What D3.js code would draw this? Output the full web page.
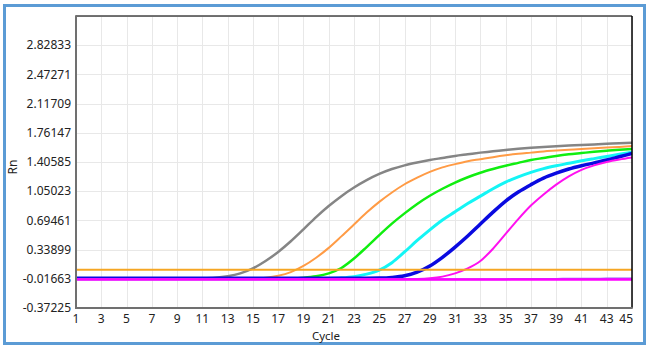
<!DOCTYPE html>
<html>
<head>
<meta charset="utf-8">
<script src="https://cdn.jsdelivr.net/npm/d3@7"></script>
<style>
  html, body { margin: 0; padding: 0; background: #fff; }
  svg { display: block; font-family: "Noto Sans", "Liberation Sans", sans-serif; }
</style>
</head>
<body>
<svg id="chart" width="650" height="354"></svg>
<script>
// cycles and tick labels
const cycles = d3.range(1, 46)
const yTicks = [-0.37225, -0.01663, 0.33899, 0.69461, 1.05023, 1.40585, 1.76147, 2.11709, 2.47271, 2.82833]
const xTicks = [1, 3, 5, 7, 9, 11, 13, 15, 17, 19, 21, 23, 25, 27, 29, 31, 33, 35, 37, 39, 41, 43, 45]
const yMax = 3.18395
const threshold = 0.094

// Rn per cycle
const gray = [-0.015, -0.015, -0.015, -0.015, -0.015, -0.015, -0.015, -0.015, -0.015, -0.015,
  -0.012, -0.004, 0.015, 0.05, 0.11, 0.2, 0.31, 0.44, 0.585, 0.735, 0.87, 0.99, 1.095, 1.185, 1.26,
  1.32, 1.365, 1.40, 1.43, 1.455, 1.48, 1.50, 1.52, 1.538, 1.553, 1.566, 1.578, 1.589, 1.598, 1.606,
  1.613, 1.62, 1.627, 1.634, 1.64]
const orange = [-0.015, -0.015, -0.015, -0.015, -0.015, -0.015, -0.015, -0.015, -0.015, -0.015,
  -0.015, -0.015, -0.015, -0.015, -0.012, -0.003, 0.02, 0.065, 0.14, 0.24, 0.36, 0.5, 0.645, 0.79, 0.92,
  1.035, 1.135, 1.215, 1.285, 1.34, 1.38, 1.415, 1.44, 1.465, 1.487, 1.505, 1.52, 1.535, 1.545, 1.555,
  1.565, 1.573, 1.581, 1.59, 1.60]
const green = [-0.015, -0.015, -0.015, -0.015, -0.015, -0.015, -0.015, -0.015, -0.015, -0.015,
  -0.015, -0.015, -0.015, -0.015, -0.015, -0.015, -0.015, -0.012, -0.003, 0.015, 0.05, 0.115, 0.23, 0.37, 0.515,
  0.655, 0.78, 0.895, 0.995, 1.08, 1.155, 1.22, 1.275, 1.32, 1.36, 1.395, 1.43, 1.455, 1.48, 1.50,
  1.515, 1.53, 1.543, 1.555, 1.565]
const cyan = [-0.015, -0.015, -0.015, -0.015, -0.015, -0.015, -0.015, -0.015, -0.015, -0.015,
  -0.015, -0.015, -0.015, -0.015, -0.015, -0.015, -0.015, -0.015, -0.015, -0.015, -0.012, -0.005, 0.01, 0.04, 0.09,
  0.18, 0.31, 0.45, 0.58, 0.70, 0.80, 0.90, 0.99, 1.08, 1.16, 1.225, 1.28, 1.325, 1.36, 1.39,
  1.42, 1.447, 1.473, 1.50, 1.525]
const blue = [-0.01, -0.01, -0.01, -0.01, -0.01, -0.01, -0.01, -0.01, -0.01, -0.01,
  -0.01, -0.01, -0.01, -0.01, -0.01, -0.01, -0.01, -0.01, -0.01, -0.01, -0.01, -0.01, -0.01, -0.01, -0.008,
  0.0, 0.02, 0.065, 0.14, 0.245, 0.37, 0.505, 0.65, 0.795, 0.93, 1.04, 1.13, 1.21, 1.27, 1.32,
  1.36, 1.395, 1.43, 1.47, 1.51]
const magenta = [-0.02, -0.02, -0.02, -0.02, -0.02, -0.02, -0.02, -0.02, -0.02, -0.02,
  -0.02, -0.02, -0.02, -0.02, -0.02, -0.02, -0.02, -0.02, -0.02, -0.02, -0.02, -0.02, -0.02, -0.02, -0.02,
  -0.02, -0.02, -0.018, -0.01, 0.01, 0.05, 0.11, 0.2, 0.35, 0.53, 0.71, 0.875, 1.01, 1.13, 1.23,
  1.31, 1.365, 1.405, 1.435, 1.46]
const ntcViolet = [-0.022, -0.022, -0.021, -0.022, -0.022, -0.023, -0.022, -0.022, -0.022, -0.023,
  -0.022, -0.022, -0.023, -0.022, -0.022, -0.022, -0.023, -0.022, -0.022, -0.022, -0.023, -0.022, -0.022, -0.022, -0.022,
  -0.023, -0.022, -0.022, -0.022, -0.023, -0.022, -0.021, -0.022, -0.022, -0.021, -0.02, -0.02, -0.019, -0.018, -0.017,
  -0.016, -0.015, -0.014, -0.013, -0.012]
const ntcMagenta = [-0.024, -0.024, -0.024, -0.024, -0.024, -0.024, -0.024, -0.024, -0.024, -0.024,
  -0.024, -0.024, -0.024, -0.024, -0.024, -0.024, -0.024, -0.024, -0.024, -0.024, -0.024, -0.024, -0.024, -0.024, -0.024,
  -0.024, -0.024, -0.024, -0.024, -0.024, -0.024, -0.024, -0.024, -0.024, -0.024, -0.024, -0.024, -0.024, -0.024, -0.024,
  -0.024, -0.024, -0.024, -0.024, -0.024]

const series = [
  {vals: gray, color: '#858585', w: 2.5},
  {vals: orange, color: '#ff9b45', w: 2},
  {vals: green, color: '#10ee10', w: 2.5},
  {vals: cyan, color: '#14f5f5', w: 3},
  {vals: blue, color: '#0a0ae0', w: 3.5},
  {vals: magenta, color: '#ff10f0', w: 2},
  {vals: ntcViolet, color: '#9060f0', w: 2},
  {vals: ntcMagenta, color: '#ff00ff', w: 2.5}
]

let svg = d3.select('#chart')
let mLeft = 76, mRight = 632, mTop = 16, mBottom = 308

let x = d3.scaleLinear().domain([1, 45]).range([mLeft, mRight])
let y = d3.scaleLinear().domain([yTicks[0], yMax]).range([mBottom, mTop])

// outer blue frame
svg.append('rect')
  .attr('x', 4.5).attr('y', 5.5).attr('width', 640).attr('height', 338)
  .attr('fill', '#fff').attr('stroke', '#5b9bd5').attr('stroke-width', 3)

// grid
svg.append('g').selectAll('line')
  .data(yTicks.concat([yMax]))
  .join('line')
  .attr('x1', mLeft).attr('x2', mRight)
  .attr('y1', d => Math.round(y(d)) + .5).attr('y2', d => Math.round(y(d)) + .5)
  .attr('stroke', '#e8e8e8')
svg.append('g').selectAll('line')
  .data(xTicks)
  .join('line')
  .attr('y1', mTop).attr('y2', mBottom)
  .attr('x1', d => Math.round(x(d)) + .5).attr('x2', d => Math.round(x(d)) + .5)
  .attr('stroke', '#e8e8e8')

// curves
svg.append('clipPath').attr('id', 'clip')
  .append('rect').attr('x', mLeft).attr('y', mTop).attr('width', mRight - mLeft).attr('height', mBottom - mTop)

let line = d3.line()
  .x((d, i) => x(cycles[i]))
  .y(d => y(d))
  .curve(d3.curveMonotoneX)

let g = svg.append('g').attr('clip-path', 'url(#clip)')
g.selectAll('path')
  .data(series)
  .join('path')
  .attr('d', d => line(d.vals))
  .attr('fill', 'none')
  .attr('stroke', d => d.color)
  .attr('stroke-width', d => d.w)

g.append('line')
  .attr('x1', mLeft).attr('x2', mRight)
  .attr('y1', y(threshold)).attr('y2', y(threshold))
  .attr('stroke', '#f5a623').attr('stroke-width', 2)

// plot frame
svg.append('line').attr('x1', mLeft).attr('x2', mRight).attr('y1', mTop).attr('y2', mTop)
  .attr('stroke', '#444').attr('stroke-width', 1.5)
svg.append('line').attr('x1', mRight).attr('x2', mRight).attr('y1', mTop).attr('y2', mBottom)
  .attr('stroke', '#000').attr('stroke-width', 1.5)
svg.append('line').attr('x1', mLeft).attr('x2', mLeft).attr('y1', mTop - .75).attr('y2', mBottom + 1)
  .attr('stroke', '#707070').attr('stroke-width', 2)
svg.append('line').attr('x1', mLeft - 1).attr('x2', mRight + .75).attr('y1', mBottom).attr('y2', mBottom)
  .attr('stroke', '#707070').attr('stroke-width', 2)

// tick labels
svg.append('g').selectAll('text')
  .data(yTicks)
  .join('text')
  .attr('x', 71).attr('y', d => y(d))
  .attr('dy', '0.35em')
  .attr('text-anchor', 'end')
  .attr('font-size', 12)
  .attr('fill', '#222')
  .text(d => d.toFixed(5))

svg.append('g').selectAll('text')
  .data(xTicks)
  .join('text')
  .attr('x', d => d == 45 ? mRight + 1 : x(d))
  .attr('y', 323)
  .attr('text-anchor', d => d == 45 ? 'end' : 'middle')
  .attr('font-size', 12)
  .attr('fill', '#222')
  .text(d => d)

svg.append('text')
  .attr('x', 326).attr('y', 339.5)
  .attr('text-anchor', 'middle')
  .attr('font-size', 11.5).attr('fill', '#222')
  .text('Cycle')

svg.append('text')
  .attr('transform', 'translate(17,167) rotate(-90)')
  .attr('text-anchor', 'middle')
  .attr('font-size', 12).attr('fill', '#222')
  .text('Rn')
</script>
</body>
</html>
